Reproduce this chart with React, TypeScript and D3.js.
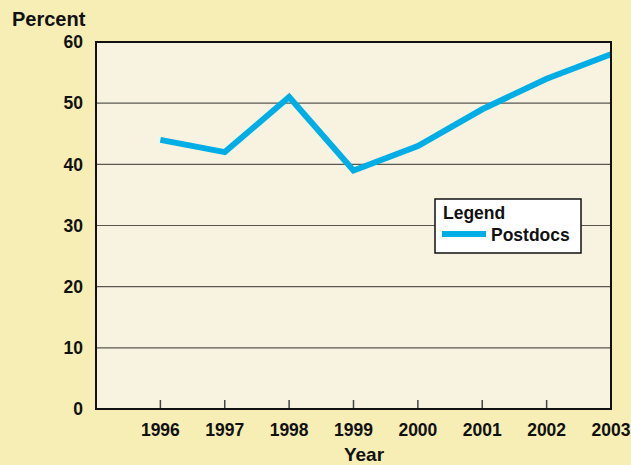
import { useEffect, useRef } from "react";
import * as d3 from "d3";

const years = [1996, 1997, 1998, 1999, 2000, 2001, 2002, 2003];
const postdocs = [44, 42, 51, 39, 43, 49, 54, 58];
const yTicks = [0, 10, 20, 30, 40, 50, 60];

const W = 631;
const H = 465;

export default function App() {
  const svgRef = useRef<SVGSVGElement>(null);

  useEffect(() => {
    const svg = d3.select(svgRef.current);
    svg.selectAll("*").remove();

    const m = { top: 42, right: 20, bottom: 56, left: 96 };
    const innerW = W - m.left - m.right;
    const innerH = H - m.top - m.bottom;

    const x = d3.scaleLinear().domain([1995, 2003]).range([m.left, m.left + innerW]);
    const y = d3.scaleLinear().domain([0, 60]).range([m.top + innerH, m.top]);

    // backgrounds
    svg.append("rect").attr("width", W).attr("height", H).attr("fill", "#f6eeb4");
    svg.append("rect")
      .attr("x", m.left).attr("y", m.top)
      .attr("width", innerW).attr("height", innerH)
      .attr("fill", "#f8f2e1");

    // gridlines
    svg.append("g")
      .selectAll("line")
      .data(yTicks.filter((d) => d > 0 && d < 60))
      .join("line")
      .attr("x1", m.left).attr("x2", m.left + innerW)
      .attr("y1", (d) => y(d)).attr("y2", (d) => y(d))
      .attr("stroke", "#5a5750").attr("stroke-width", 1.2);

    // x ticks (inside, upward)
    svg.append("g")
      .selectAll("line")
      .data(years.slice(0, -1))
      .join("line")
      .attr("x1", (d) => x(d)).attr("x2", (d) => x(d))
      .attr("y1", y(0)).attr("y2", y(0) - 9)
      .attr("stroke", "#444").attr("stroke-width", 1.5);

    // line
    const data = years.map((yr, i) => ({ yr, v: postdocs[i] }));
    const ln = d3.line<{ yr: number; v: number }>().x((d) => x(d.yr)).y((d) => y(d.v));
    svg.append("path")
      .datum(data)
      .attr("d", ln)
      .attr("fill", "none")
      .attr("stroke", "#00aee6")
      .attr("stroke-width", 6)
      .attr("stroke-linejoin", "miter");

    // frame
    svg.append("rect")
      .attr("x", m.left).attr("y", m.top)
      .attr("width", innerW).attr("height", innerH)
      .attr("fill", "none").attr("stroke", "#111").attr("stroke-width", 2);

    const font = "'Liberation Sans', Arial, sans-serif";

    // y tick labels
    svg.append("g")
      .selectAll("text")
      .data(yTicks)
      .join("text")
      .attr("x", 83).attr("y", (d) => y(d))
      .attr("dy", "0.36em")
      .attr("text-anchor", "end")
      .attr("font-family", font).attr("font-weight", "bold").attr("font-size", 17.5)
      .attr("fill", "#111")
      .text((d) => d);

    // x tick labels
    svg.append("g")
      .selectAll("text")
      .data(years)
      .join("text")
      .attr("x", (d) => x(d)).attr("y", 436)
      .attr("text-anchor", "middle")
      .attr("font-family", font).attr("font-weight", "bold").attr("font-size", 17.5)
      .attr("fill", "#111")
      .text((d) => d);

    // axis titles
    svg.append("text")
      .attr("x", 12).attr("y", 26)
      .attr("font-family", font).attr("font-weight", "bold").attr("font-size", 20)
      .attr("fill", "#111")
      .text("Percent");
    svg.append("text")
      .attr("x", 364).attr("y", 461)
      .attr("text-anchor", "middle")
      .attr("font-family", font).attr("font-weight", "bold").attr("font-size", 19)
      .attr("fill", "#111")
      .text("Year");

    // legend
    const lg = svg.append("g");
    lg.append("rect")
      .attr("x", 435).attr("y", 199).attr("width", 146).attr("height", 54)
      .attr("fill", "#fff").attr("stroke", "#111").attr("stroke-width", 1.5);
    lg.append("text")
      .attr("x", 443).attr("y", 219)
      .attr("font-family", font).attr("font-weight", "bold").attr("font-size", 17.5)
      .attr("fill", "#111")
      .text("Legend");
    lg.append("line")
      .attr("x1", 442).attr("x2", 486).attr("y1", 234).attr("y2", 234)
      .attr("stroke", "#00aee6").attr("stroke-width", 6);
    lg.append("text")
      .attr("x", 491).attr("y", 241)
      .attr("font-family", font).attr("font-weight", "bold").attr("font-size", 17.5)
      .attr("fill", "#111")
      .text("Postdocs");
  }, []);

  return (
    <svg
      ref={svgRef}
      width={W}
      height={H}
      style={{ position: "absolute", left: 0, top: 0, display: "block" }}
    />
  );
}
